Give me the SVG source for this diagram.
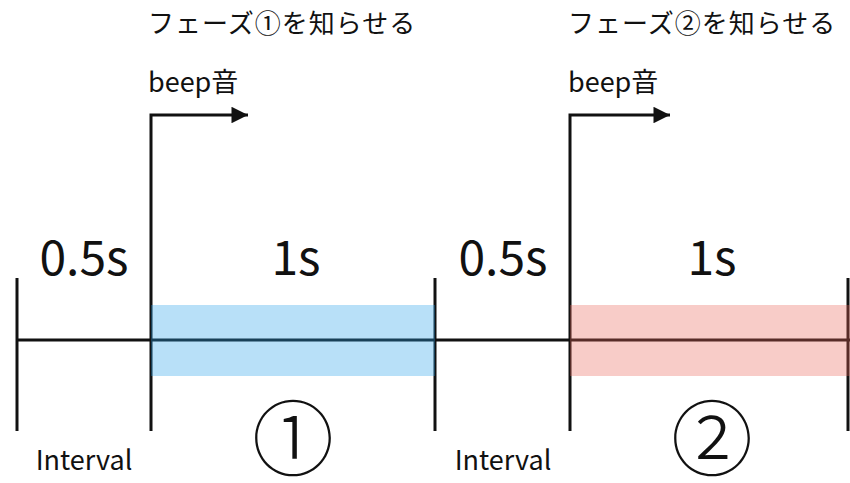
<svg xmlns="http://www.w3.org/2000/svg" width="850" height="483" viewBox="0 0 850 483">
  <style>
    text { font-family: "Noto Sans CJK JP", "Liberation Sans", sans-serif; fill: #111; }
    .dur { font-size: 48px; }
    .lbl { font-size: 27px; }
    .note { font-size: 26px; letter-spacing: 1px; }
    .phase { font-size: 82px; font-weight: 300; }
    .ln { stroke: #111; stroke-width: 3; fill: none; }
  </style>
  <defs>
    <marker id="arrow" viewBox="0 0 10 10" refX="10" refY="5" markerWidth="6" markerHeight="5.5" markerUnits="strokeWidth" orient="auto">
      <path d="M0,0 L10,5 L0,10 z" fill="#111"/>
    </marker>
  </defs>

  <!-- timeline axis and ticks -->
  <g id="connectors">
    <line class="ln" x1="17" y1="340" x2="850" y2="340"/>
    <line class="ln" x1="17" y1="278" x2="17" y2="431"/>
    <line class="ln" x1="435" y1="278" x2="435" y2="431"/>
    <line class="ln" x1="848" y1="278" x2="848" y2="431"/>
    <path class="ln" d="M151,431 V115 H248" marker-end="url(#arrow)"/>
    <path class="ln" d="M570,431 V115 H670" marker-end="url(#arrow)"/>
  </g>

  <!-- phase bands (translucent over the axis) -->
  <g id="phase1-band">
    <rect x="151" y="305" width="284" height="71" fill="#27a0e9" fill-opacity="0.33"/>
  </g>
  <g id="phase2-band">
    <rect x="570" y="305" width="280" height="71" fill="#e96458" fill-opacity="0.33"/>
  </g>

  <g id="interval1">
    <text class="dur" x="84" y="275" text-anchor="middle">0.5s</text>
    <text class="lbl" x="84" y="470" text-anchor="middle">Interval</text>
  </g>
  <g id="phase1">
    <text class="dur" x="296" y="275" text-anchor="middle">1s</text>
    <text class="phase" x="293" y="469" text-anchor="middle">①</text>
  </g>
  <g id="interval2">
    <text class="dur" x="503" y="275" text-anchor="middle">0.5s</text>
    <text class="lbl" x="503" y="470" text-anchor="middle">Interval</text>
  </g>
  <g id="phase2">
    <text class="dur" x="712" y="275" text-anchor="middle">1s</text>
    <text class="phase" x="712" y="469" text-anchor="middle">②</text>
  </g>

  <g id="beep1">
    <text class="note" x="148" y="33">フェーズ①を知らせる</text>
    <text class="lbl" x="148" y="92">beep音</text>
  </g>
  <g id="beep2">
    <text class="note" x="568" y="33">フェーズ②を知らせる</text>
    <text class="lbl" x="568" y="92">beep音</text>
  </g>
</svg>
